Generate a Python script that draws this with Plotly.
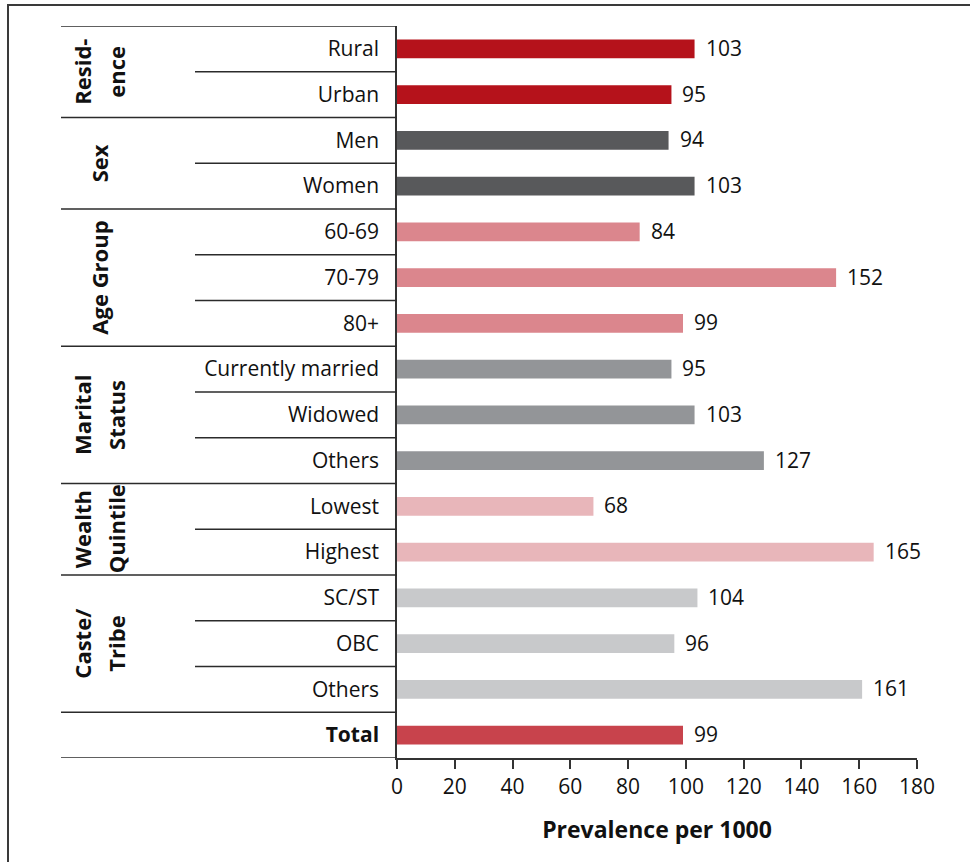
import plotly.graph_objects as go

# ---- data ----
categories = ["Rural", "Urban", "Men", "Women", "60-69", "70-79", "80+",
              "Currently married", "Widowed", "Others", "Lowest", "Highest",
              "SC/ST", "OBC", "Others", "<b>Total</b>"]
values = [103, 95, 94, 103, 84, 152, 99, 95, 103, 127, 68, 165, 104, 96, 161, 99]
group_names = ["Resid-<br>ence", "Sex", "Age Group", "Marital<br>Status",
               "Wealth<br>Quintile", "Caste/<br>Tribe", ""]
group_sizes = [2, 2, 3, 3, 2, 3, 1]
group_colors = ["#B5121B", "#58595B", "#DB868D", "#939598", "#E8B6BA", "#C8C9CB", "#C8434C"]
x_ticks = [0, 20, 40, 60, 80, 100, 120, 140, 160, 180]

FONT = "Open Sans"
W, H = 970, 862
L, R, T, B = 397, 53, 26, 104
PW = W - L - R
PH = H - T - B


def px_to_paper_x(px):
    return (px - L) / PW


def px_to_paper_y(py):
    return 1 - (py - T) / PH


ypos = list(range(len(categories)))
colors = []
for c, n in zip(group_colors, group_sizes):
    colors += [c] * n

fig = go.Figure()
fig.add_trace(go.Bar(
    x=values, y=ypos, orientation="h", width=0.41,
    marker=dict(color=colors, line=dict(width=0)),
    hoverinfo="skip", showlegend=False,
))

annotations = []
for v, y in zip(values, ypos):
    annotations.append(dict(x=v, y=y, xref="x", yref="y", text=str(v),
                            showarrow=False, xanchor="left", yanchor="middle",
                            xshift=9, yshift=1,
                            font=dict(family=FONT, size=21, color="#111")))

shapes = []
line_col = "#2b2b2b"
shapes.append(dict(type="line", xref="paper", yref="y",
                   x0=px_to_paper_x(61), x1=0, y0=-0.5, y1=-0.5,
                   line=dict(color=line_col, width=1.5)))
start = 0
for name, n in zip(group_names, group_sizes):
    for k in range(1, n):
        yy = start + k - 0.5
        shapes.append(dict(type="line", xref="paper", yref="y",
                           x0=px_to_paper_x(195), x1=0, y0=yy, y1=yy,
                           line=dict(color=line_col, width=1.5)))
    end = start + n
    shapes.append(dict(type="line", xref="paper", yref="y",
                       x0=px_to_paper_x(61), x1=0, y0=end - 0.5, y1=end - 0.5,
                       line=dict(color=line_col, width=1.5)))
    if name:
        lines = name.split("<br>")
        m = len(lines)
        for i, part in enumerate(lines):
            shift = (i - (m - 1) / 2) * 34
            annotations.append(dict(x=px_to_paper_x(99), y=start + (n - 1) / 2,
                                    xref="paper", yref="y", text="<b>" + part + "</b>",
                                    showarrow=False, textangle=-90,
                                    xanchor="center", yanchor="middle", xshift=shift,
                                    font=dict(family=FONT, size=22, color="#111")))
    start = end

# outer frame
shapes.append(dict(type="rect", xref="paper", yref="paper",
                   x0=px_to_paper_x(8), x1=1.3, y0=-0.4, y1=px_to_paper_y(5),
                   line=dict(color="#3a3a3a", width=2), fillcolor="rgba(0,0,0,0)"))

fig.update_layout(
    width=W, height=H,
    margin=dict(l=L, r=R, t=T, b=B, pad=0),
    paper_bgcolor="white", plot_bgcolor="white",
    font=dict(family=FONT, size=21, color="#111"),
    shapes=shapes, annotations=annotations,
)
fig.update_xaxes(
    range=[0, 180], tickvals=x_ticks, ticktext=[str(t) for t in x_ticks],
    showgrid=False, zeroline=False, showline=True, linecolor="#333", linewidth=1.5,
    ticks="outside", ticklen=9, tickwidth=1.5, tickcolor="#333",
    tickfont=dict(family=FONT, size=21, color="#111"),
    title=dict(text="<b>Prevalence per 1000</b>", standoff=23,
               font=dict(family=FONT, size=23, color="#111")),
)
fig.update_yaxes(
    range=[len(categories) - 0.5, -0.5], tickvals=ypos, ticktext=categories,
    showgrid=False, zeroline=False, showline=True, linecolor="#333", linewidth=1.5,
    ticks="", ticklabelstandoff=12,
    tickfont=dict(family=FONT, size=21, color="#111"),
)

fig.write_html("out.html", config={"displayModeBar": False},
               post_script="document.body.style.margin='0';document.body.style.overflow='hidden';")
